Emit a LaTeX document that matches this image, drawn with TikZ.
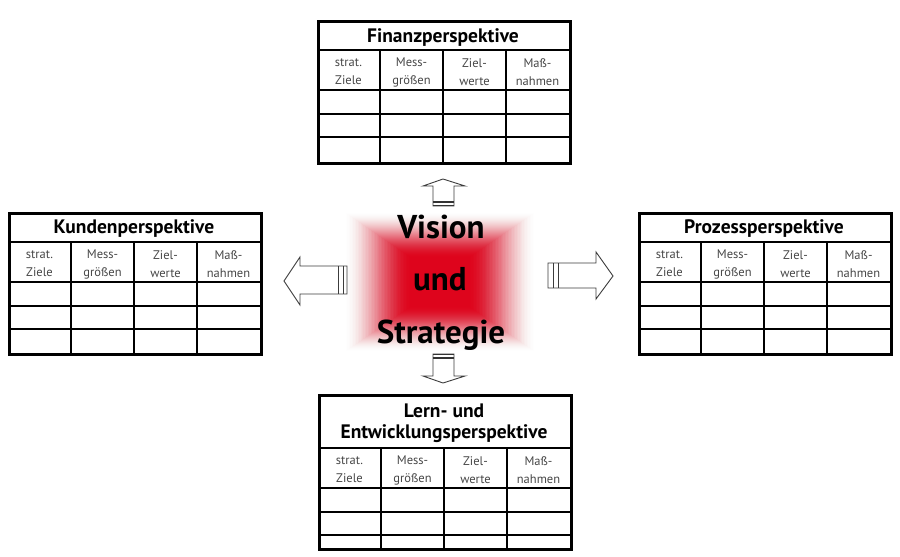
\documentclass[tikz,border=0pt]{standalone}
\usepackage{fontspec}
\setmainfont{PT Sans}
\definecolor{glowred}{RGB}{222,4,28}
\definecolor{arrowgray}{RGB}{60,60,60}
\tikzset{
 tabbox/.style={draw=black, line width=2.6pt, inner sep=0pt},
 tabline/.style={draw=black, line width=1.3pt},
 tabtitle/.style={font=\bfseries\fontsize{19.5}{21}\selectfont, inner sep=0pt, align=center},
 colhead/.style={font=\fontsize{12.5}{18}\selectfont, text=black!72, inner sep=0pt, align=center},
 centertext/.style={font=\bfseries\fontsize{33}{36}\selectfont, inner sep=0pt},
 blockarrow/.style={draw=arrowgray, line width=0.9pt, fill=white, line join=miter},
 stripe/.style={draw=black!80, line width=1.3pt},
}
\newcommand\bsctab[7]{%
\begin{scope}[shift={(#2,#3)}]
\draw[tabline] (0,#4) -- (252,#4);
\draw[tabline] (0,#4+40) -- (252,#4+40);
\draw[tabline] (0,#4+64) -- (252,#4+64);
\draw[tabline] (0,#4+87) -- (252,#4+87);
\foreach \cx in {63,126,189} \draw[tabline] (\cx,#4) -- (\cx,#5);
\node[tabtitle, anchor=base] (#1-title) at (126,#7) {#6};
\node[colhead] (#1-c1) at (31.5,#4+22) {strat.\\Ziele};
\node[colhead] (#1-c2) at (94.5,#4+22) {Mess-\\größen};
\node[colhead] (#1-c3) at (157.5,#4+22) {Ziel-\\werte};
\node[colhead] (#1-c4) at (220.5,#4+22) {Maß-\\nahmen};
\node[tabbox, anchor=north west, minimum width=252pt, minimum height=#5pt] (#1) at (0,0) {};
\end{scope}}
\begin{document}
\begin{tikzpicture}[x=1pt,y=-1pt]
\fill[white] (0,0) rectangle (900,557);
\useasboundingbox (0,0) rectangle (900,557);
% glow
\coordinate (core) at (440,282);
\foreach \i in {1,...,48}{
 \pgfmathsetmacro\hw{97-70*\i/48}
 \pgfmathsetmacro\hh{71-48*\i/48}
 \pgfmathsetmacro\ta{\i/48}
 \pgfmathsetmacro\tb{(\i-1)/48}
 \pgfmathsetmacro\aa{min(0.999,3*\ta*\ta-2*\ta*\ta*\ta)}
 \pgfmathsetmacro\ab{3*\tb*\tb-2*\tb*\tb*\tb}
 \pgfmathsetmacro\op{1-(1-\aa)/(1-\ab)}
 \fill[glowred, opacity=\op] (440-\hw,282-\hh) rectangle (440+\hw,282+\hh);
}
\node[centertext, anchor=base] (vision) at (441,238) {Vision};
\node[centertext, anchor=base] (und) at (440,290) {und};
\node[centertext, anchor=base] (strategie) at (441,343) {Strategie};
% tables
\bsctab{fin}{317}{20}{30}{142}{Finanzperspektive}{22}
\bsctab{kun}{8}{212}{30}{141}{Kundenperspektive}{21}
\bsctab{pro}{638}{212}{30}{141}{Prozessperspektive}{21}
\bsctab{lern}{318}{394}{54}{154}{Lern- und\\Entwicklungsperspektive}{44}
% arrows
\draw[blockarrow] (433,206) -- (433,186) -- (423,186) -- (443,179) -- (465,186) -- (454,186) -- (454,206) -- cycle;
\draw[stripe] (433,202) -- (454,202);
\draw[stripe] (433,205.5) -- (454,205.5);
\draw[blockarrow] (433,354) -- (433,376) -- (423,376) -- (443,383) -- (465,376) -- (454,376) -- (454,354) -- cycle;
\draw[stripe] (433,354.5) -- (454,354.5);
\draw[stripe] (433,358) -- (454,358);
\draw[blockarrow] (347,266) -- (300,266) -- (300,257) -- (284,281) -- (300,305) -- (300,294) -- (347,294) -- cycle;
\draw[arrowgray, line width=0.9pt] (338,266) -- (338,294) (343,266) -- (343,294);
\draw[blockarrow] (548,263) -- (596,263) -- (596,252) -- (613,276) -- (596,299) -- (596,288) -- (548,288) -- cycle;
\draw[arrowgray, line width=0.9pt] (553,263) -- (553,288) (558,263) -- (558,288);
\end{tikzpicture}
\end{document}
